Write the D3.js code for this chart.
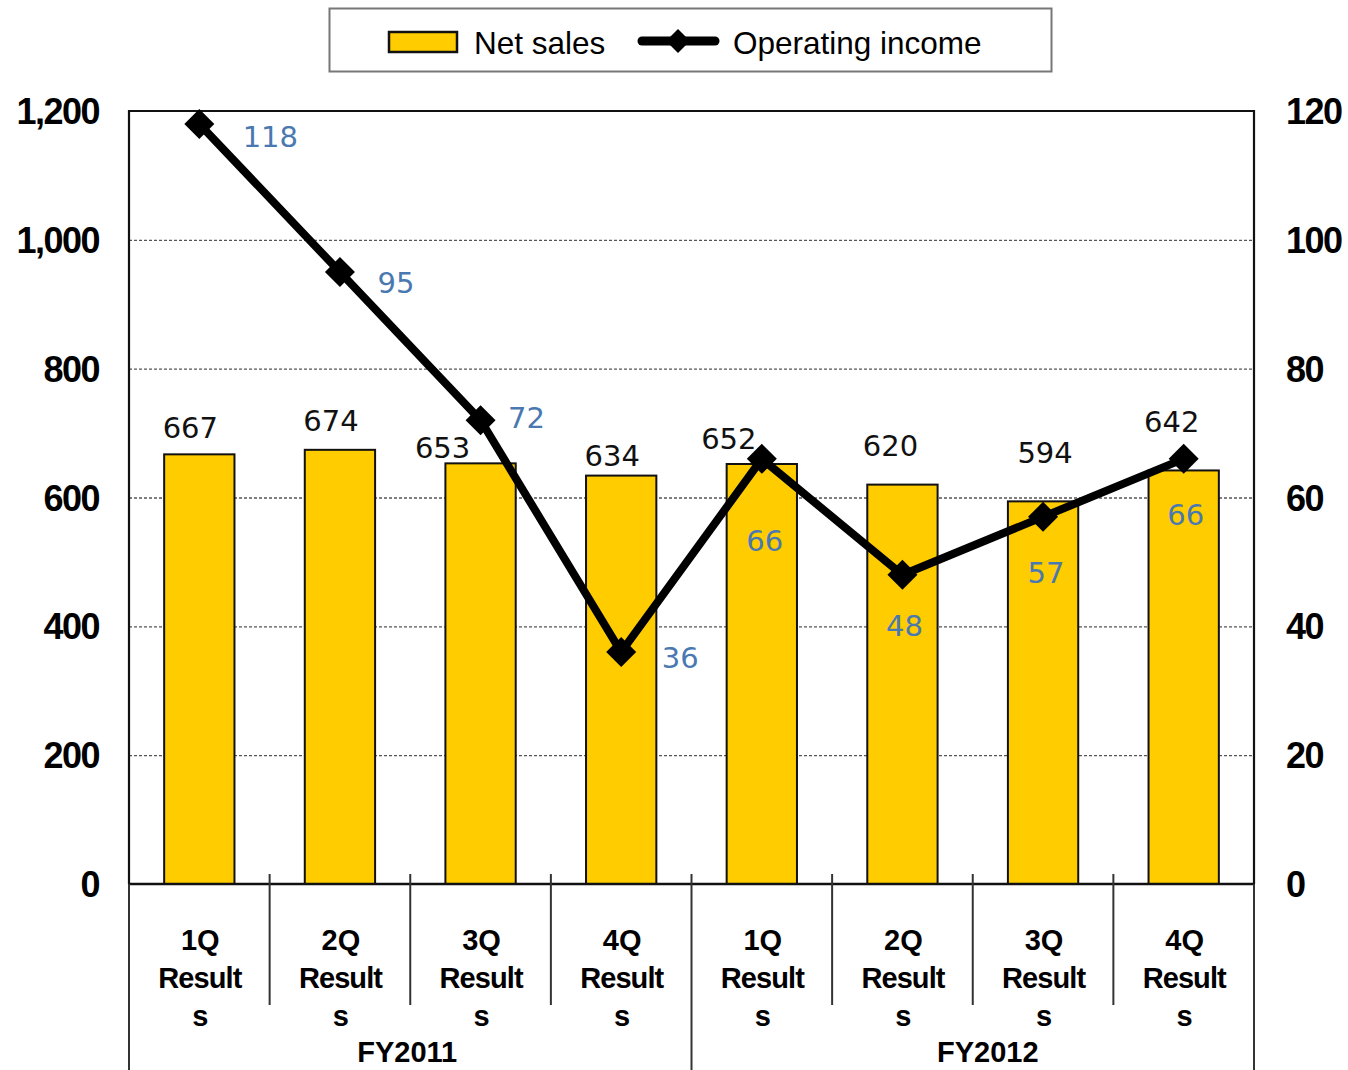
<!DOCTYPE html>
<html>
<head>
<meta charset="utf-8">
<script src="https://cdn.jsdelivr.net/npm/d3@7"></script>
<style>
  body { margin: 0; background: #fff; }
  svg { display: block; }
</style>
</head>
<body>
<div id="chart"></div>
<script>
// data
var quarters = ["1Q", "2Q", "3Q", "4Q", "1Q", "2Q", "3Q", "4Q"];
var fiscalYears = ["FY2011", "FY2012"];
var netSales = [667, 674, 653, 634, 652, 620, 594, 642];
var operatingIncome = [118, 95, 72, 36, 66, 48, 57, 66];
var leftTicks = [0, 200, 400, 600, 800, 1000, 1200];
var rightTicks = [0, 20, 40, 60, 80, 100, 120];

// label nudges (layout only), [dx, dy] from the mark
var salesLabelShift = [[-9, -27], [-9, -30], [-38, -16], [-9, -21], [-33, -26], [-12, -40], [2, -49], [-12, -49]];
var incomeLabelShift = [[71, 12], [56, 10], [46, -3], [59, 5], [3, 81], [2, 50], [3, 55], [2, 55]];
var yearLabelShift = [-3, 15];

var width = 1348, height = 1070;
var plotLeft = 129, plotRight = 1254, plotTop = 111, plotBottom = 884;

var svg = d3.select("#chart").append("svg")
  .attr("width", width)
  .attr("height", height);

var x = d3.scaleBand()
  .domain(d3.range(quarters.length))
  .range([plotLeft, plotRight])
  .paddingInner(0)
  .paddingOuter(0);

var ySales = d3.scaleLinear().domain([0, 1200]).range([plotBottom, plotTop]);
var yIncome = d3.scaleLinear().domain([0, 120]).range([plotBottom, plotTop]);

var barW = x.bandwidth() * 0.5;

function cx(i) {
  return x(i) + x.bandwidth() / 2;
}

// grid lines
svg.append("g")
  .selectAll("line")
  .data(leftTicks.filter(function(d) { return d > 0 && d < 1200; }))
  .enter().append("line")
  .attr("x1", plotLeft)
  .attr("x2", plotRight)
  .attr("y1", function(d) { return ySales(d) + .5; })
  .attr("y2", function(d) { return ySales(d) + .5; })
  .attr("stroke", "#555")
  .attr("stroke-width", 1.4)
  .attr("stroke-dasharray", "3,2");

// bars
svg.append("g")
  .selectAll("rect")
  .data(netSales)
  .enter().append("rect")
  .attr("x", function(d, i) { return cx(i) - barW / 2; })
  .attr("y", function(d) { return ySales(d); })
  .attr("width", barW)
  .attr("height", function(d) { return plotBottom - ySales(d); })
  .attr("fill", "#FFCC00")
  .attr("stroke", "#111")
  .attr("stroke-width", 2);

// frame
svg.append("path")
  .attr("d", "M" + plotLeft + "," + plotBottom + "V" + plotTop + "H" + plotRight + "V" + plotBottom)
  .attr("fill", "none")
  .attr("stroke", "#111")
  .attr("stroke-width", 2.2);

svg.append("line")
  .attr("x1", plotLeft).attr("x2", plotRight)
  .attr("y1", plotBottom).attr("y2", plotBottom)
  .attr("stroke", "#111")
  .attr("stroke-width", 2.6);

// category separators under the axis
svg.append("g")
  .selectAll("line")
  .data(d3.range(1, quarters.length))
  .enter().append("line")
  .attr("x1", function(i) { return x(i); })
  .attr("x2", function(i) { return x(i); })
  .attr("y1", plotBottom - 10)
  .attr("y2", function(i) { return i % 4 == 0 ? height : 1005; })
  .attr("stroke", "#333")
  .attr("stroke-width", 2);

svg.append("g")
  .selectAll("line")
  .data([plotLeft, plotRight])
  .enter().append("line")
  .attr("x1", function(d) { return d; })
  .attr("x2", function(d) { return d; })
  .attr("y1", plotBottom)
  .attr("y2", height)
  .attr("stroke", "#333")
  .attr("stroke-width", 2);

// category labels
var catFont = "'Liberation Sans', Arial, sans-serif";
var cat = svg.append("g")
  .attr("font-family", catFont)
  .attr("font-weight", "bold")
  .attr("font-size", 29)
  .attr("text-anchor", "middle")
  .attr("fill", "#000");

quarters.forEach(function(q, i) {
  [q, "Result", "s"].forEach(function(t, k) {
    cat.append("text")
      .attr("x", cx(i) + 1)
      .attr("y", 950 + k * 38)
      .attr("textLength", k == 1 ? 84 : null)
      .text(t);
  });
});

fiscalYears.forEach(function(fy, j) {
  var mid = (cx(j * 4) + cx(j * 4 + 3)) / 2;
  cat.append("text")
    .attr("x", mid + yearLabelShift[j])
    .attr("y", 1062)
    .text(fy);
});

// axis tick labels
var axisText = svg.append("g")
  .attr("font-family", catFont)
  .attr("font-weight", "bold")
  .attr("font-size", 36)
  .attr("letter-spacing", -1.5)
  .attr("fill", "#000");

axisText.selectAll("text.l")
  .data(leftTicks)
  .enter().append("text")
  .attr("class", "l")
  .attr("x", 99)
  .attr("y", function(d) { return ySales(d) + 13; })
  .attr("text-anchor", "end")
  .text(function(d) { return d3.format(",")(d); });

axisText.selectAll("text.r")
  .data(rightTicks)
  .enter().append("text")
  .attr("class", "r")
  .attr("x", 1286)
  .attr("y", function(d) { return yIncome(d) + 13; })
  .attr("text-anchor", "start")
  .text(function(d) { return d; });

// sales value labels
svg.append("g")
  .selectAll("text")
  .data(netSales)
  .enter().append("text")
  .attr("x", function(d, i) { return cx(i) + salesLabelShift[i][0]; })
  .attr("y", function(d, i) { return ySales(d) + salesLabelShift[i][1] + 11; })
  .attr("text-anchor", "middle")
  .attr("font-family", "'DejaVu Sans', sans-serif")
  .attr("font-size", 29)
  .attr("fill", "#111")
  .text(function(d) { return d; });

// operating income line
var line = d3.line()
  .x(function(d, i) { return cx(i); })
  .y(function(d) { return yIncome(d); });

svg.append("path")
  .datum(operatingIncome)
  .attr("d", line)
  .attr("fill", "none")
  .attr("stroke", "#000")
  .attr("stroke-width", 8)
  .attr("stroke-linejoin", "miter");

svg.append("g")
  .selectAll("path")
  .data(operatingIncome)
  .enter().append("path")
  .attr("d", "M0,-15L15,0L0,15L-15,0Z")
  .attr("transform", function(d, i) {
    return "translate(" + cx(i) + "," + yIncome(d) + ")";
  })
  .attr("fill", "#000");

svg.append("g")
  .selectAll("text")
  .data(operatingIncome)
  .enter().append("text")
  .attr("x", function(d, i) { return cx(i) + incomeLabelShift[i][0]; })
  .attr("y", function(d, i) { return yIncome(d) + incomeLabelShift[i][1] + 11; })
  .attr("text-anchor", "middle")
  .attr("font-family", "'DejaVu Sans', sans-serif")
  .attr("font-size", 29)
  .attr("fill", "#4A78B0")
  .text(function(d) { return d; });

// legend
var legend = svg.append("g");
legend.append("rect")
  .attr("x", 329.5).attr("y", 8.5)
  .attr("width", 722).attr("height", 63)
  .attr("fill", "#fff")
  .attr("stroke", "#777")
  .attr("stroke-width", 2);

legend.append("rect")
  .attr("x", 389).attr("y", 32)
  .attr("width", 68).attr("height", 20)
  .attr("fill", "#FFCC00")
  .attr("stroke", "#111")
  .attr("stroke-width", 2.5);

legend.append("text")
  .attr("x", 474).attr("y", 54)
  .attr("font-family", catFont)
  .attr("font-size", 31.5)
  .attr("fill", "#000")
  .text("Net sales");

legend.append("line")
  .attr("x1", 642).attr("x2", 715)
  .attr("y1", 41).attr("y2", 41)
  .attr("stroke", "#000")
  .attr("stroke-width", 9)
  .attr("stroke-linecap", "round");

legend.append("path")
  .attr("d", "M0,-12L12,0L0,12L-12,0Z")
  .attr("transform", "translate(678,41)")
  .attr("fill", "#000");

legend.append("text")
  .attr("x", 733).attr("y", 54)
  .attr("font-family", catFont)
  .attr("font-size", 31.5)
  .attr("fill", "#000")
  .text("Operating income");
</script>
</body>
</html>
